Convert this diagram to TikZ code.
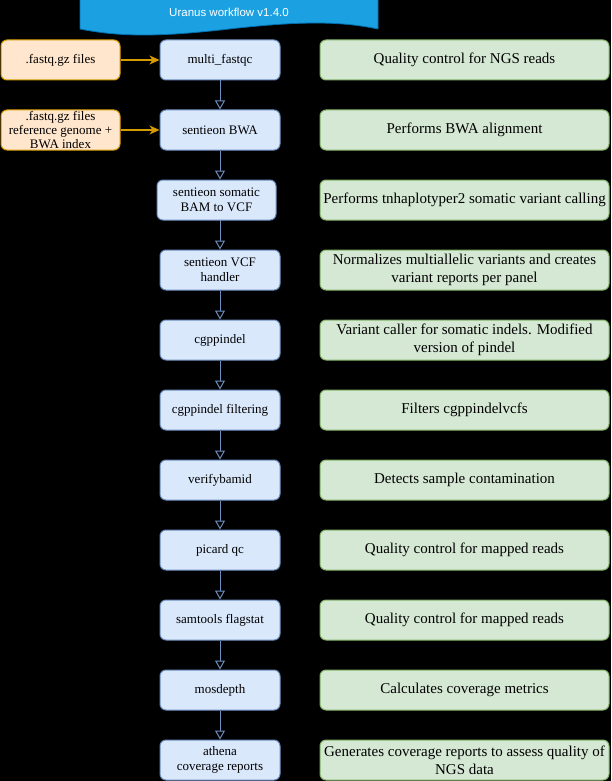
\documentclass[tikz,border=0pt]{standalone}
\usepackage{fontspec}
\setmainfont{Liberation Serif}
\newfontfamily\titlefont{Liberation Sans}
\usetikzlibrary{arrows.meta}
\definecolor{bfill}{HTML}{DAE8FC}
\definecolor{bdraw}{HTML}{6C8EBF}
\definecolor{gfill}{HTML}{D5E8D4}
\definecolor{gdraw}{HTML}{82B366}
\definecolor{ofill}{HTML}{FFE6CC}
\definecolor{odraw}{HTML}{D79B00}
\definecolor{tfill}{HTML}{1BA1E2}
\definecolor{tdraw}{HTML}{006EAF}
\tikzset{
  bluebox/.style={draw=bdraw, fill=bfill, rounded corners=6pt, minimum width=120pt, minimum height=40pt, inner sep=0pt, align=center, font=\fontsize{13}{15}\selectfont, line width=1pt},
  greenbox/.style={draw=gdraw, fill=gfill, rounded corners=6pt, minimum width=289pt, minimum height=40pt, inner sep=0pt, align=center, font=\fontsize{15}{18}\selectfont, line width=1pt},
  orangebox/.style={draw=odraw, fill=ofill, rounded corners=6pt, minimum width=119pt, minimum height=40pt, inner sep=0pt, align=center, font=\fontsize{13}{14}\selectfont, line width=1pt},
  flow/.style={draw=bdraw, line width=1pt, -{Triangle[open, length=9pt, width=10pt]}},
  inflow/.style={draw=odraw, line width=1.2pt, -{Stealth[length=10pt, width=9pt, inset=3pt]}, fill=odraw},
}
\begin{document}
\begin{tikzpicture}[x=1pt,y=-1pt]
\fill[black] (0,0) rectangle (611,781);
\useasboundingbox (0,0) rectangle (611,781);
% title banner
\draw[fill=tfill, draw=tdraw, line width=0.8pt] (80,-2) -- (378,-2) -- (378,29)
  .. controls (340,21) and (300,21) .. (229,29)
  .. controls (160,37) and (120,37) .. (80,29) -- cycle;
\node[text=white, font=\titlefont\fontsize{11.5}{13}\selectfont] (title) at (229,12) {Uranus workflow v1.4.0};
% input boxes
\node[orangebox] (i1) at (60.5,60) {.fastq.gz files};
\node[orangebox] (i2) at (60.5,130) {.fastq.gz files\\reference genome +\\BWA index};
% steps
\node[bluebox] (n1) at (220,60) {multi\_fastqc};
\node[bluebox] (n2) at (220,130) {sentieon BWA};
\node[bluebox, minimum width=119pt] (n3) at (216.5,200) {sentieon somatic\\BAM to VCF};
\node[bluebox] (n4) at (220,270) {sentieon VCF\\handler};
\node[bluebox] (n5) at (220,340) {cgppindel};
\node[bluebox] (n6) at (220,410) {cgppindel filtering};
\node[bluebox] (n7) at (220,480) {verifybamid};
\node[bluebox] (n8) at (220,550) {picard qc};
\node[bluebox] (n9) at (220,620) {samtools flagstat};
\node[bluebox] (n10) at (220,690) {mosdepth};
\node[bluebox] (n11) at (220,760) {athena\\coverage reports};
% descriptions
\node[greenbox] (d1) at (464.5,60) {Quality control for NGS reads};
\node[greenbox] (d2) at (464.5,130) {Performs BWA alignment};
\node[greenbox] (d3) at (464.5,200) {Performs tnhaplotyper2 somatic variant calling};
\node[greenbox] (d4) at (464.5,270) {Normalizes multiallelic variants and creates\\variant reports per panel};
\node[greenbox] (d5) at (464.5,340) {Variant caller for somatic indels. Modified\\version of pindel};
\node[greenbox] (d6) at (464.5,410) {Filters cgppindelvcfs};
\node[greenbox] (d7) at (464.5,480) {Detects sample contamination};
\node[greenbox] (d8) at (464.5,550) {Quality control for mapped reads};
\node[greenbox] (d9) at (464.5,620) {Quality control for mapped reads};
\node[greenbox] (d10) at (464.5,690) {Calculates coverage metrics};
\node[greenbox] (d11) at (464.5,760) {Generates coverage reports to assess quality of\\NGS data};
% arrows
\draw[inflow] (i1) -- (n1);
\draw[inflow] (i2) -- (n2);
\draw[flow] (n1) -- (n2);
\draw[flow] (n2.south) -- (n2.south |- n3.north);
\draw[flow] (n3.north -| n4.north) ++(0,40) -- (n4.north);
\draw[flow] (n4) -- (n5);
\draw[flow] (n5) -- (n6);
\draw[flow] (n6) -- (n7);
\draw[flow] (n7) -- (n8);
\draw[flow] (n8) -- (n9);
\draw[flow] (n9) -- (n10);
\draw[flow] (n10) -- (n11);
\end{tikzpicture}
\end{document}
